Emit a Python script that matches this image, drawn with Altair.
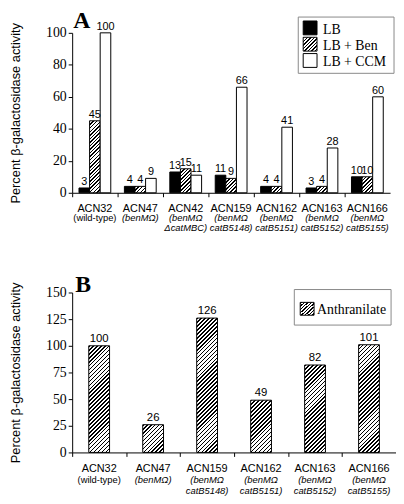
import altair as alt

# ---------------- data ----------------
strains_a = ["ACN32", "ACN47", "ACN42", "ACN159", "ACN162", "ACN163", "ACN166"]
sub1_a = ["(wild-type)", "(benMΩ)", "(benMΩ", "(benMΩ", "(benMΩ", "(benMΩ", "(benMΩ"]
sub2_a = ["", "", "ΔcatMBC)", "catB5148)", "catB5151)", "catB5152)", "catB5155)"]
series_a = ["LB", "LB + Ben", "LB + CCM"]
lb = [3, 4, 13, 11, 4, 3, 10]
lb_ben = [45, 4, 15, 9, 4, 4, 10]
lb_ccm = [100, 9, 11, 66, 41, 28, 60]
ticks_a = [0, 20, 40, 60, 80, 100]

strains_b = ["ACN32", "ACN47", "ACN159", "ACN162", "ACN163", "ACN166"]
sub1_b = ["(wild-type)", "(benMΩ)", "(benMΩ", "(benMΩ", "(benMΩ", "(benMΩ"]
sub2_b = ["", "", "catB5148)", "catB5151)", "catB5152)", "catB5155)"]
series_b = ["Anthranilate"]
anthranilate = [100, 26, 126, 49, 82, 101]
ticks_b = [0, 25, 50, 75, 100, 125, 150]

YTITLE = "Percent β-galactosidase activity"

# ---------------- layout / style ----------------
WA, HA, YMAX_A = 322, 162, 100
WB, HB, YMAX_B = 328, 162, 150
PI_A, PI_B = 0.3, 0.615
SANS = "Liberation Sans, Arial, sans-serif"
NARROW = "Liberation Sans Narrow, Arial Narrow, Liberation Sans, Arial, sans-serif"
SERIF = "Liberation Serif, Times New Roman, serif"


def hatch(w, h, period=4.0, n=50, frac=0.42):
    """Linear gradient emulating '////' hatching for a w x h px box."""
    L = period * n
    d = w * w + h * h
    stops = []
    for i in range(n):
        a, b, c = i / n, (i + frac) / n, (i + 1) / n
        stops += [
            {"offset": round(a, 5), "color": "black"},
            {"offset": round(b, 5), "color": "black"},
            {"offset": round(b, 5), "color": "white"},
            {"offset": round(c, 5), "color": "white"},
        ]
    return {"gradient": "linear", "x1": 0, "y1": 0,
            "x2": w * L / d, "y2": h * L / d, "stops": stops}


# bar pixel widths (for the hatch gradient geometry)
step_a = WA / len(strains_a)
barw_a = step_a * (1 - PI_A) / 3
step_b = WB / len(strains_b)
barw_b = step_b * (1 - PI_B)

rows_a = []
for i, s in enumerate(strains_a):
    for ser, vals in zip(series_a, [lb, lb_ben, lb_ccm]):
        v = vals[i]
        if ser == "LB":
            f = "black"
        elif ser == "LB + CCM":
            f = "white"
        else:
            f = hatch(barw_a, max(v / YMAX_A * HA, 0.5), period=3.6)
        rows_a.append({"strain": s, "series": ser, "value": v, "fill": f})

rows_b = []
for i, s in enumerate(strains_b):
    v = anthranilate[i]
    rows_b.append({"strain": s, "series": series_b[0], "value": v,
                   "fill": hatch(barw_b, v / YMAX_B * HB, period=4.0)})

lab_a = [{"strain": s, "l1": a, "l2": b} for s, a, b in zip(strains_a, sub1_a, sub2_a)]
lab_b = [{"strain": s, "l1": a, "l2": b} for s, a, b in zip(strains_b, sub1_b, sub2_b)]


def x_enc(strains, pi, W):
    return alt.X("strain:N", sort=strains,
                 scale=alt.Scale(paddingInner=pi, paddingOuter=pi / 2),
                 axis=alt.Axis(labels=False, title=None, tickSize=4,
                               tickOffset=-W / len(strains) / 2,
                               domainColor="black", tickColor="black"))


def y_axis(vals, pad):
    return alt.Axis(values=vals, grid=False, title=YTITLE, titleFont=SANS,
                    titleFontSize=13, titleFontWeight="normal", titleColor="black",
                    titlePadding=pad, labelFont=SERIF, labelFontSize=14,
                    labelColor="black", labelPadding=2, tickSize=4,
                    domainColor="black", tickColor="black")


def xlabels(rows, strains, H, d1, d2, d3):
    base = alt.Chart(alt.Data(values=rows)).encode(
        x=alt.X("strain:N", sort=strains))
    l0 = base.mark_text(font=SANS, fontSize=11, color="black",
                        baseline="alphabetic").encode(
        y=alt.value(H + d1), text="strain:N")
    l1i = base.transform_filter("datum.l1 != '(wild-type)'").mark_text(
        font=SANS, fontSize=9.5, fontStyle="italic", color="black",
        baseline="alphabetic").encode(y=alt.value(H + d2), text="l1:N")
    l1r = base.transform_filter("datum.l1 == '(wild-type)'").mark_text(
        font=SANS, fontSize=9.5, color="black",
        baseline="alphabetic").encode(y=alt.value(H + d2), text="l1:N")
    l2 = base.mark_text(font=SANS, fontSize=9.5, fontStyle="italic",
                        color="black", baseline="alphabetic").encode(
        y=alt.value(H + d3), text="l2:N")
    return [l0, l1i, l1r, l2]


one = alt.Data(values=[{"k": 1}])

# ---------------- panel A ----------------
base_a = alt.Chart(alt.Data(values=rows_a)).encode(
    x=x_enc(strains_a, PI_A, WA),
    xOffset=alt.XOffset("series:N", sort=series_a),
    y=alt.Y("value:Q", scale=alt.Scale(domain=[0, YMAX_A], nice=False),
            axis=y_axis(ticks_a, 23)),
)
bars_a = base_a.mark_bar(stroke="black", strokeWidth=1).encode(
    fill=alt.Fill("fill:N", scale=None))
vals_a = base_a.mark_text(font=NARROW, fontSize=11, baseline="bottom",
                          dy=-1, color="black").encode(text="value:Q")

letter_a = alt.Chart(one).mark_text(font=SERIF, fontWeight="bold", fontSize=24,
                                    align="left", baseline="alphabetic",
                                    color="black").encode(
    x=alt.value(1), y=alt.value(-5), text=alt.value("A"))

leg_box_a = alt.Chart(one).mark_rect(fill="white", stroke="#888888",
                                     strokeWidth=1).encode(
    x=alt.value(229), x2=alt.value(326), y=alt.value(-16), y2=alt.value(41))
leg_sw = []
leg_tx = []
leg_fills = ["black", hatch(14, 14, period=3.6), "white"]
for k, (ser, f) in enumerate(zip(series_a, leg_fills)):
    y0 = -12 + 16.5 * k
    leg_sw.append(alt.Chart(one).mark_rect(fill=f, stroke="black", strokeWidth=1).encode(
        x=alt.value(234), x2=alt.value(248), y=alt.value(y0), y2=alt.value(y0 + 14)))
    leg_tx.append(alt.Chart(one).mark_text(font=SERIF, fontSize=14, align="left",
                                           baseline="alphabetic", color="black").encode(
        x=alt.value(254), y=alt.value(y0 + 13), text=alt.value(ser)))

panel_a = alt.layer(bars_a, vals_a, *xlabels(lab_a, strains_a, HA, 19, 29, 39),
                    letter_a, leg_box_a, *leg_sw, *leg_tx).properties(
    width=WA, height=HA)

# ---------------- panel B ----------------
base_b = alt.Chart(alt.Data(values=rows_b)).encode(
    x=x_enc(strains_b, PI_B, WB),
    y=alt.Y("value:Q", scale=alt.Scale(domain=[0, YMAX_B], nice=False),
            axis=y_axis(ticks_b, 23)),
)
bars_b = base_b.mark_bar(stroke="black", strokeWidth=1).encode(
    fill=alt.Fill("fill:N", scale=None))
vals_b = base_b.mark_text(font=NARROW, fontSize=11.5, baseline="bottom",
                          dy=-2, color="black").encode(text="value:Q")

letter_b = alt.Chart(one).mark_text(font=SERIF, fontWeight="bold", fontSize=24,
                                    align="left", baseline="alphabetic",
                                    color="black").encode(
    x=alt.value(3), y=alt.value(-1), text=alt.value("B"))
leg_box_b = alt.Chart(one).mark_rect(fill="white", stroke="#888888",
                                     strokeWidth=1).encode(
    x=alt.value(225), x2=alt.value(323), y=alt.value(-3), y2=alt.value(33))
leg_sw_b = alt.Chart(one).mark_rect(fill=hatch(14, 14, period=3.6), stroke="black",
                                    strokeWidth=1).encode(
    x=alt.value(231), x2=alt.value(245), y=alt.value(10), y2=alt.value(23))
leg_tx_b = alt.Chart(one).mark_text(font=SERIF, fontSize=14, align="left",
                                    baseline="alphabetic", color="black").encode(
    x=alt.value(248), y=alt.value(22), text=alt.value(series_b[0]))

panel_b = alt.layer(bars_b, vals_b, *xlabels(lab_b, strains_b, HB, 20, 31, 42),
                    letter_b, leg_box_b, leg_sw_b, leg_tx_b).properties(
    width=WB, height=HB)

chart = alt.vconcat(panel_a, panel_b, spacing=40).configure_view(
    stroke=None).properties(padding={"left": 2, "top": -2, "right": 0, "bottom": 0},
                            background="white")

chart.save("out.html", embed_options={"renderer": "svg", "actions": False})
